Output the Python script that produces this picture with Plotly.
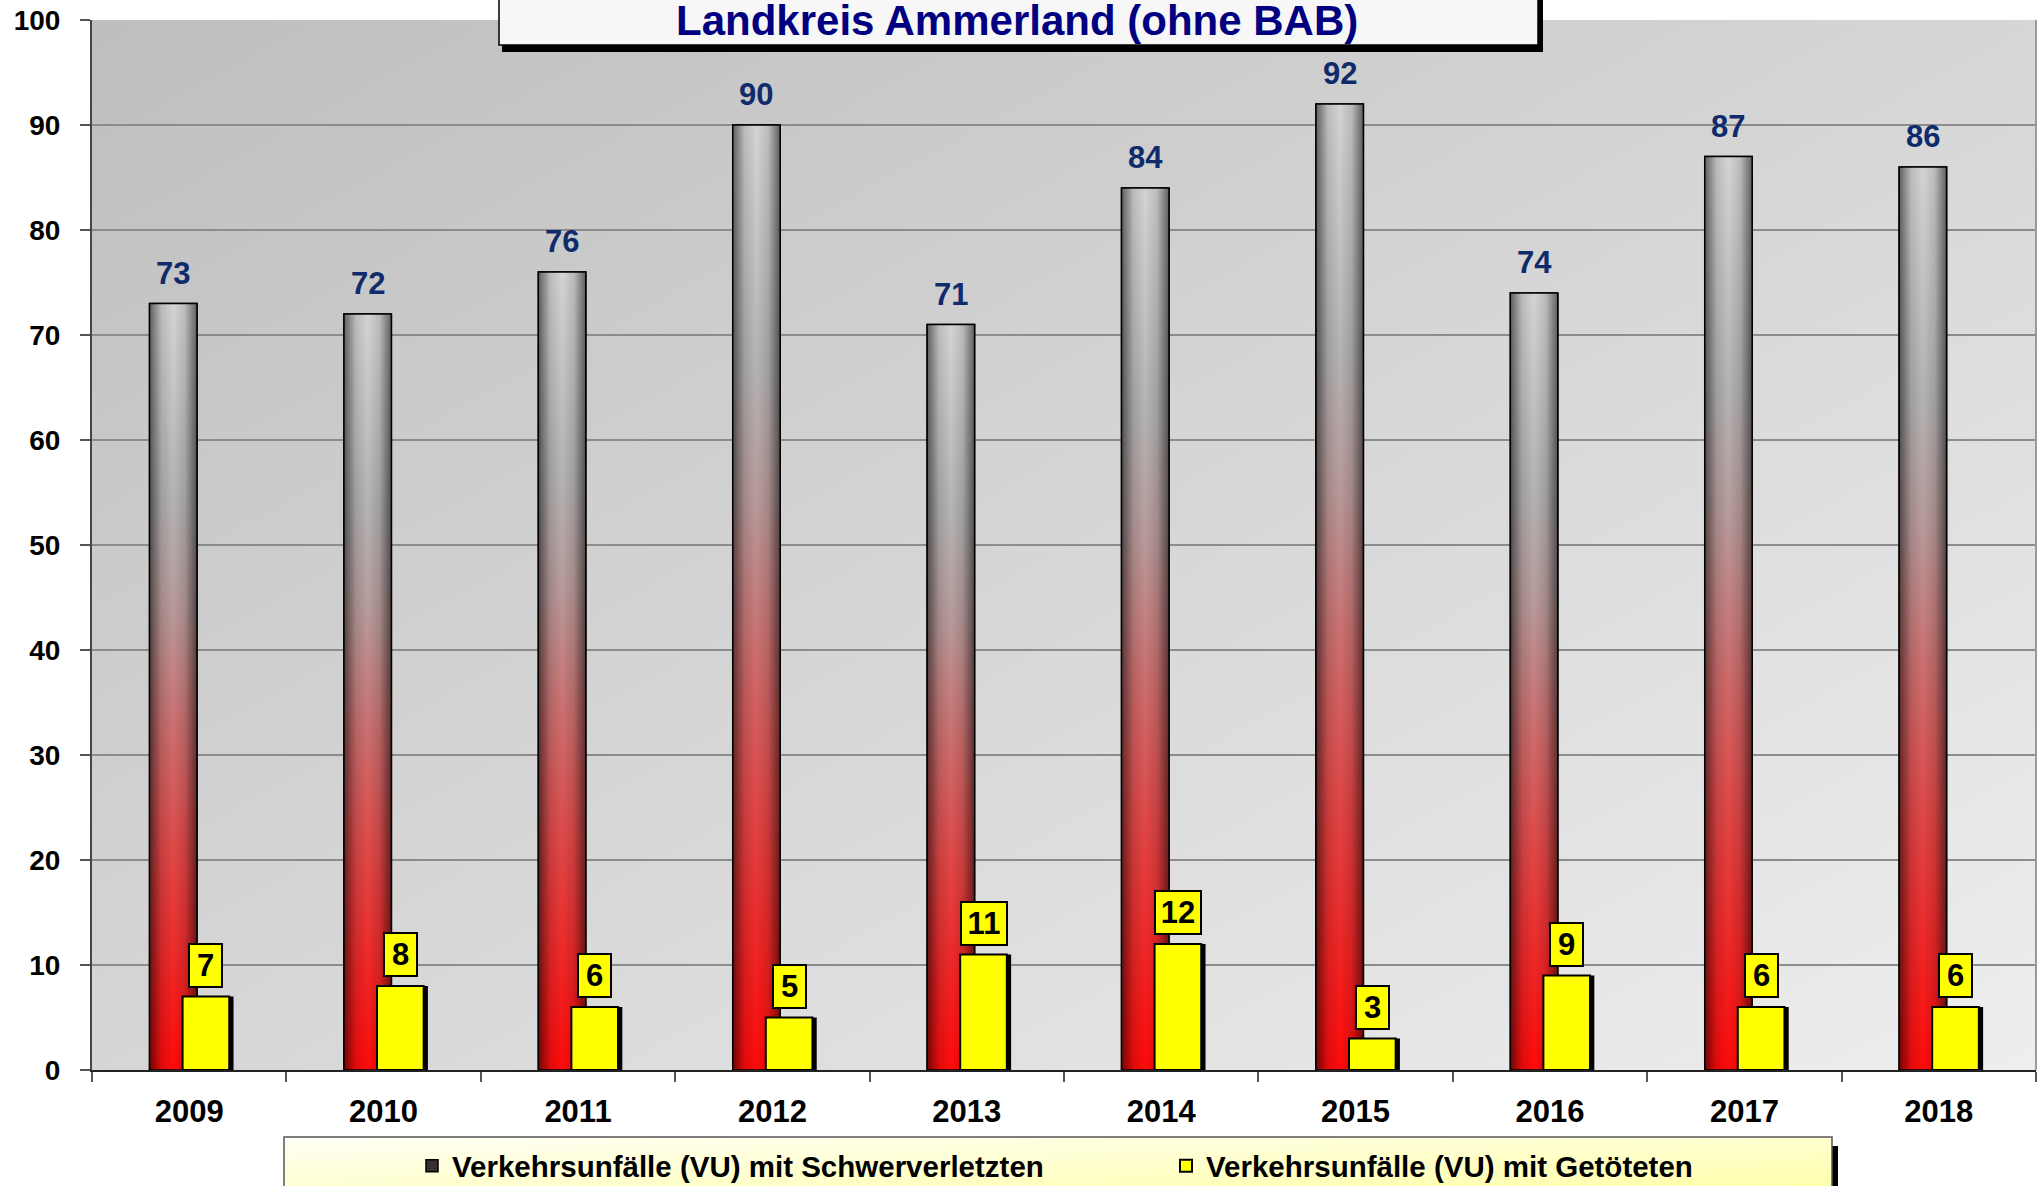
import base64

import plotly.graph_objects as go

years = [2009, 2010, 2011, 2012, 2013, 2014, 2015, 2016, 2017, 2018]
year_labels = [str(y) for y in years]
schwer = [73, 72, 76, 90, 71, 84, 92, 74, 87, 86]
getoetet = [7, 8, 6, 5, 11, 12, 3, 9, 6, 6]

title_text = "Landkreis Ammerland (ohne BAB)"
name_schwer = "Verkehrsunfälle (VU) mit Schwerverletzten"
name_getoetet = "Verkehrsunfälle (VU) mit Getöteten"

W, H = 2044, 1186
PLOT_L, PLOT_R, PLOT_T, PLOT_B = 92, 2036, 20, 1070  # plot area in pixels
ML, MT, MR, MB = PLOT_L, PLOT_T, W - PLOT_R, H - PLOT_B
PW = PLOT_R - PLOT_L
PH = PLOT_B - PLOT_T
FONT = "Liberation Sans, Arial, sans-serif"

# bar placement inside one category (category units)
RED_OFF, RED_W = -0.204, 0.244
YEL_OFF, YEL_W = -0.034, 0.24
SHADOW_DX = 0.022


def px(x):
    return (x - PLOT_L) / PW


def py(y):
    return (PLOT_B - y) / PH


def svg_uri(svg):
    return "data:image/svg+xml;base64," + base64.b64encode(svg.encode()).decode()


def diag_gradient(c0, c1):
    return svg_uri(
        "<svg xmlns='http://www.w3.org/2000/svg' width='100' height='100' "
        "viewBox='0 0 100 100' preserveAspectRatio='none'>"
        "<defs><linearGradient id='g' x1='0' y1='0' x2='1' y2='1'>"
        f"<stop offset='0' stop-color='{c0}'/><stop offset='1' stop-color='{c1}'/>"
        "</linearGradient></defs><rect width='100' height='100' fill='url(#g)'/></svg>"
    )


red_scale = [
    [0.0, "#ff0a0a"], [0.15, "#ee2a2a"], [0.3, "#df4b4b"], [0.45, "#cc7070"],
    [0.6, "#b99a9a"], [0.75, "#b4b4b4"], [1.0, "#d4d4d4"],
]
shade_scale = [
    [0.0, "rgba(0,0,0,0.55)"], [0.25, "rgba(0,0,0,0.12)"], [0.5, "rgba(0,0,0,0)"],
    [0.75, "rgba(0,0,0,0.12)"], [1.0, "rgba(0,0,0,0.55)"],
]

fig = go.Figure()

fig.add_trace(go.Bar(
    x=years, y=schwer, width=RED_W, offset=RED_OFF, name=name_schwer,
    marker=dict(color="#3b2e2e", line=dict(color="black", width=1.5)),
))

# gradient skin over the red bars
for yr, v in zip(years, schwer):
    x0, x1 = yr + RED_OFF, yr + RED_OFF + RED_W
    xs = [x0, x1, x1, x0, x0]
    ys = [0, 0, v, v, 0]
    fig.add_trace(go.Scatter(
        x=xs, y=ys, mode="lines", line=dict(width=0), fill="toself",
        fillgradient=dict(type="vertical", colorscale=red_scale),
        showlegend=False, hoverinfo="skip",
    ))
    fig.add_trace(go.Scatter(
        x=xs, y=ys, mode="lines", line=dict(color="black", width=1.5), fill="toself",
        fillgradient=dict(type="horizontal", colorscale=shade_scale),
        showlegend=False, hoverinfo="skip",
    ))

# yellow bars sit on an overlay subplot so they are drawn above the red ones
fig.add_trace(go.Bar(
    x=years, y=getoetet, width=YEL_W, offset=YEL_OFF + SHADOW_DX,
    marker=dict(color="black", line=dict(width=0)),
    xaxis="x2", yaxis="y2", showlegend=False, hoverinfo="skip",
))
fig.add_trace(go.Bar(
    x=years, y=getoetet, width=YEL_W, offset=YEL_OFF, name=name_getoetet,
    marker=dict(color="#ffff00", line=dict(color="black", width=2)),
    xaxis="x2", yaxis="y2",
))

annotations = []
for yr, v in zip(years, schwer):
    annotations.append(dict(
        x=yr + RED_OFF + RED_W / 2, y=v, xref="x", yref="y", text=str(v),
        showarrow=False, yanchor="bottom", yshift=11,
        font=dict(family=FONT, size=31, color="#0f2b6b", weight="bold"),
    ))
for yr, v in zip(years, getoetet):
    annotations.append(dict(
        x=yr + YEL_OFF + YEL_W / 2, y=v, xref="x", yref="y", text=str(v),
        showarrow=False, yanchor="bottom", yshift=9,
        bgcolor="#ffff00", bordercolor="black", borderwidth=2, borderpad=3,
        width=25 if v < 10 else 38,
        font=dict(family=FONT, size=31, color="black", weight="bold"),
    ))
annotations.append(dict(
    x=px(1017), y=py(20), xref="paper", yref="paper", text=title_text,
    showarrow=False, xanchor="center", yanchor="middle",
    font=dict(family=FONT, size=42, color="#000080", weight="bold"),
))

shapes = [
    # title box with drop shadow
    dict(type="rect", xref="paper", yref="paper", x0=px(502), x1=px(1543),
         y0=py(52), y1=py(-5), fillcolor="black", line=dict(width=0)),
    dict(type="rect", xref="paper", yref="paper", x0=px(499), x1=px(1538),
         y0=py(45), y1=py(-5), fillcolor="#f7f7f7", line=dict(color="black", width=1.5)),
    # legend frame
    dict(type="rect", xref="paper", yref="paper", x0=px(1832), x1=px(1838),
         y0=py(1190), y1=py(1146), fillcolor="black", line=dict(width=0)),
    dict(type="rect", xref="paper", yref="paper", x0=px(284), x1=px(1832),
         y0=py(1190), y1=py(1137), fillcolor="rgba(0,0,0,0)", line=dict(color="#555555", width=1.5)),
    # right border of the plot area
    dict(type="line", xref="paper", yref="paper", x0=1, x1=1, y0=0, y1=1,
         line=dict(color="#9a9a9a", width=2)),
]

images = [
    dict(source=diag_gradient("#bebebe", "#eeeeee"), xref="paper", yref="paper",
         x=0, y=1, sizex=1, sizey=1, sizing="stretch", layer="below",
         xanchor="left", yanchor="top"),
    dict(source=diag_gradient("#fffff6", "#ffffaa"), xref="paper", yref="paper",
         x=px(284), y=py(1137), sizex=px(1832) - px(284), sizey=py(1137) - py(1190),
         sizing="stretch", layer="below", xanchor="left", yanchor="top"),
]

xrange = [years[0] - 0.5, years[-1] + 0.5]
boundaries = [yr - 0.5 for yr in years] + [years[-1] + 0.5]

fig.update_layout(
    width=W, height=H,
    margin=dict(l=ML, r=MR, t=MT, b=MB, pad=0, autoexpand=False),
    paper_bgcolor="white", plot_bgcolor="#d4d4d4",
    font=dict(family=FONT, color="black"),
    barmode="overlay",
    showlegend=True,
    legend=dict(
        orientation="h", x=px(412), y=py(1140), xanchor="left", yanchor="top",
        bgcolor="rgba(0,0,0,0)", borderwidth=0, entrywidth=709, entrywidthmode="pixels",
        font=dict(family=FONT, size=29.5, color="black", weight="bold"),
    ),
    xaxis=dict(
        range=xrange, tickvals=years, ticktext=year_labels, ticks="",
        showgrid=False, zeroline=False, showline=True, linecolor="#222222", linewidth=2,
        tickfont=dict(family=FONT, size=31, color="black", weight="bold"),
        ticklabelstandoff=13, automargin=False,
        minor=dict(tickvals=boundaries, ticks="outside", ticklen=10,
                   tickcolor="#555555", tickwidth=1.5, showgrid=False),
    ),
    yaxis=dict(
        range=[0, 100], tick0=0, dtick=10, ticks="outside", ticklen=10,
        tickcolor="#555555", tickwidth=1.5,
        showgrid=True, gridcolor="#8c8c8c", gridwidth=2, zeroline=False,
        showline=True, linecolor="#444444", linewidth=2,
        tickfont=dict(family=FONT, size=28, color="black", weight="bold"),
        ticklabelstandoff=14, ticklabeloverflow="allow", automargin=False,
    ),
    xaxis2=dict(overlaying="x", range=xrange, visible=False),
    yaxis2=dict(overlaying="y", range=[0, 100], visible=False),
    annotations=annotations,
    shapes=shapes,
    images=images,
)

# drop the browser's default 8px body margin so the figure fills the window
fig.write_html(
    "out.html",
    config={"displayModeBar": False},
    post_script="document.body.style.margin = '0';",
)
